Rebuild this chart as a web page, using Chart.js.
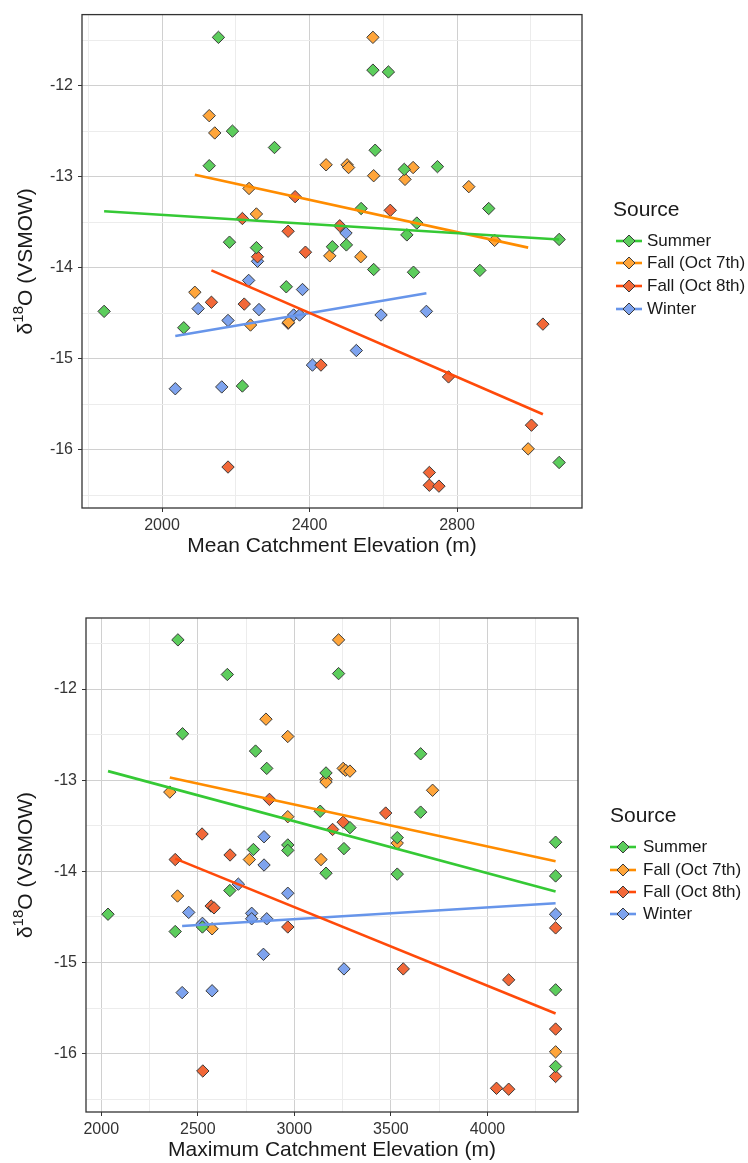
<!DOCTYPE html>
<html>
<head>
<meta charset="utf-8">
<script src="https://cdn.jsdelivr.net/npm/chart.js@4.4.1/dist/chart.umd.min.js"></script>
<style>
  body { margin: 0; background: #fff; font-family: "Liberation Sans", Arial, sans-serif; }
  #page { position: relative; width: 748px; height: 1163px; overflow: hidden; }
  .panel { position: absolute; left: 0; }
  .lg-title { position: absolute; font-size: 21px; line-height: 24px; color: #1a1a1a; white-space: nowrap; }
  .lg-item { position: absolute; font-size: 17px; line-height: 20px; height: 20px; color: #1a1a1a; white-space: nowrap; }
  .lg-item svg { position: absolute; top: 0; }
</style>
</head>
<body>
<div id="page">
  <canvas id="meanChart" class="panel" width="748" height="580" style="top:0"></canvas>
  <canvas id="maxChart" class="panel" width="748" height="583" style="top:580px"></canvas>
</div>
<script>
// series names, in legend order
const seriesNames = ['Summer', 'Fall (Oct 7th)', 'Fall (Oct 8th)', 'Winter'];

// top panel: mean catchment elevation (m) vs d18O
const summerMean = [[2153,-11.47],[2572,-11.83],[2614,-11.85],[2191,-12.50],[2305,-12.68],[2578,-12.71],[2128,-12.88],[2747,-12.89],[2657,-12.92],[2540,-13.35],[2886,-13.35],[2691,-13.51],[2664,-13.64],[3077,-13.69],[2183,-13.72],[2500,-13.75],[2462,-13.77],[2256,-13.78],[2574,-14.02],[2862,-14.03],[2682,-14.05],[2337,-14.21],[1843,-14.48],[2059,-14.66],[2218,-15.30],[3077,-16.14]];
const fall7Mean = [[2572,-11.47],[2128,-12.33],[2143,-12.52],[2445,-12.87],[2502,-12.87],[2506,-12.90],[2681,-12.90],[2574,-12.99],[2659,-13.03],[2832,-13.11],[2236,-13.13],[2256,-13.41],[2902,-13.70],[2455,-13.87],[2539,-13.88],[2089,-14.27],[2343,-14.60],[2240,-14.63],[2993,-15.99]];
const fall8Mean = [[2361,-13.22],[2619,-13.37],[2218,-13.46],[2482,-13.54],[2342,-13.60],[2389,-13.83],[2259,-13.88],[2134,-14.38],[2223,-14.40],[2342,-14.61],[3033,-14.62],[2431,-15.07],[2777,-15.20],[3002,-15.73],[2179,-16.19],[2725,-16.25],[2725,-16.39],[2751,-16.40]];
const winterMean = [[2499,-13.62],[2259,-13.93],[2235,-14.14],[2381,-14.24],[2098,-14.45],[2263,-14.46],[2717,-14.48],[2357,-14.52],[2373,-14.52],[2594,-14.52],[2179,-14.58],[2527,-14.91],[2408,-15.07],[2162,-15.31],[2036,-15.33]];
// fitted lines (end points)
const summerMeanFit = [[1843,-13.38],[3077,-13.69]];
const fall7MeanFit = [[2089,-12.98],[2993,-13.78]];
const fall8MeanFit = [[2134,-14.03],[3033,-15.61]];
const winterMeanFit = [[2036,-14.75],[2717,-14.28]];

// bottom panel: maximum catchment elevation (m) vs d18O
const summerMax = [[2397,-11.46],[3229,-11.83],[2653,-11.84],[2421,-12.49],[2799,-12.68],[3654,-12.71],[2857,-12.87],[3164,-12.92],[3134,-13.34],[3654,-13.35],[3288,-13.52],[3533,-13.63],[4353,-13.68],[2966,-13.71],[3257,-13.75],[2788,-13.76],[2966,-13.77],[3164,-14.02],[3533,-14.03],[4353,-14.05],[2666,-14.21],[2035,-14.47],[2524,-14.61],[2383,-14.66],[4353,-15.30],[4353,-16.14]];
const fall7Max = [[3229,-11.46],[2853,-12.33],[2966,-12.52],[3253,-12.87],[3265,-12.89],[3288,-12.90],[3164,-12.99],[3164,-13.02],[3716,-13.11],[2355,-13.13],[2966,-13.40],[3533,-13.69],[2767,-13.87],[3138,-13.87],[2395,-14.27],[2574,-14.63],[4353,-15.98]];
const fall8Max = [[2871,-13.21],[3473,-13.36],[3253,-13.46],[3198,-13.54],[2522,-13.59],[2667,-13.82],[2383,-13.87],[2569,-14.38],[2584,-14.40],[2966,-14.61],[4353,-14.62],[3564,-15.07],[4110,-15.19],[4353,-15.73],[2526,-16.19],[4353,-16.25],[4047,-16.38],[4110,-16.39]];
const winterMax = [[2843,-13.62],[2843,-13.93],[2710,-14.14],[2966,-14.24],[2453,-14.45],[2779,-14.46],[4353,-14.47],[2779,-14.52],[2857,-14.52],[2524,-14.57],[2840,-14.91],[3257,-15.07],[2574,-15.31],[2419,-15.33]];
const summerMaxFit = [[2035,-12.90],[4353,-14.22]];
const fall7MaxFit = [[2355,-12.97],[4353,-13.89]];
const fall8MaxFit = [[2383,-13.86],[4353,-15.56]];
const winterMaxFit = [[2419,-14.60],[4353,-14.35]];

// tick labels and grid lines
const meanTickLabels = [2000, 2400, 2800];
const meanMinorTicks = [1800, 2200, 2600, 3000];
const maxTickLabels = [2000, 2500, 3000, 3500, 4000];
const maxMinorTicks = [2250, 2750, 3250, 3750, 4250];
const yTickLabels = [-16, -15, -14, -13, -12];
const yMinorTicks = [-16.5, -15.5, -14.5, -13.5, -12.5, -11.5];

const pointColors = ['#5ccd5c', '#ffa53a', '#f26838', '#7ea3ee'];
const lineColors = ['#35c935', '#ff8c00', '#ff4a0a', '#6795ea'];
const FONT = '"Liberation Sans", Arial, sans-serif';

Chart.defaults.font.family = FONT;
Chart.defaults.animation = false;

const toXY = arr => arr.map(p => ({ x: p[0], y: p[1] }));

const framePlugin = {
  id: 'frame',
  afterDatasetsDraw(chart) {
    const { ctx, chartArea: a } = chart;
    ctx.save();
    ctx.strokeStyle = '#333';
    ctx.lineWidth = 1.3;
    ctx.strokeRect(a.left, a.top, a.right - a.left, a.bottom - a.top);
    ctx.restore();
  }
};

// y axis title with a raised "18"
const yTitlePlugin = {
  id: 'yTitle',
  afterDraw(chart, args, opts) {
    const { ctx, chartArea: a } = chart;
    const big = '21px ' + FONT, small = '15px ' + FONT;
    ctx.save();
    ctx.translate(opts.x, (a.top + a.bottom) / 2);
    ctx.rotate(-Math.PI / 2);
    ctx.fillStyle = '#1a1a1a';
    ctx.textBaseline = 'alphabetic';
    ctx.font = big;
    const w1 = ctx.measureText('δ').width, w3 = ctx.measureText('O (VSMOW)').width;
    ctx.font = small;
    const w2 = ctx.measureText('18').width;
    let x = -(w1 + w2 + w3) / 2;
    ctx.font = big; ctx.fillText('δ', x, 0); x += w1;
    ctx.font = small; ctx.fillText('18', x, -9); x += w2;
    ctx.font = big; ctx.fillText('O (VSMOW)', x, 0);
    ctx.restore();
  }
};

function gridScale(labels, minor, min, max, opts) {
  const isMajor = v => labels.includes(v);
  return {
    type: 'linear', min: min, max: max,
    afterBuildTicks: ax => { ax.ticks = labels.concat(minor).sort((a, b) => a - b).map(v => ({ value: v })); },
    afterFit: opts.fit,
    border: { display: false },
    grid: {
      color: c => isMajor(c.tick.value) ? '#d0d0d0' : '#ececec',
      lineWidth: 1,
      tickLength: 4,
      tickColor: c => isMajor(c.tick.value) ? '#333' : 'rgba(0,0,0,0)'
    },
    ticks: {
      autoSkip: false, maxRotation: 0, padding: opts.pad,
      color: '#333', font: { size: 16 },
      callback: v => isMajor(v) ? String(v) : ''
    },
    title: opts.title ? { display: true, text: opts.title, color: '#1a1a1a', font: { size: 21 }, padding: { top: 0, bottom: 0 } } : { display: false }
  };
}

function makeChart(id, groups, fits, xr, xLabels, xMinor, xTitle, yWidth, pad, titleX) {
  const datasets = [];
  fits.forEach((f, i) => datasets.push({
    label: seriesNames[i] + ' fit', data: toXY(f), showLine: true,
    borderColor: lineColors[i], borderWidth: 2.6, pointRadius: 0, order: 0
  }));
  groups.forEach((g, i) => datasets.push({
    label: seriesNames[i], data: toXY(g), pointStyle: 'rectRot', pointRadius: 6.2,
    backgroundColor: pointColors[i], borderColor: '#3a3a3a', borderWidth: 1, order: 1
  }));
  return new Chart(document.getElementById(id), {
    type: 'scatter',
    data: { datasets: datasets },
    options: {
      responsive: false,
      layout: { padding: pad },
      plugins: { legend: { display: false }, tooltip: { enabled: false }, yTitle: { x: titleX } },
      scales: {
        x: gridScale(xLabels, xMinor, xr[0], xr[1], { fit: ax => { ax.height = 51; }, pad: 4, title: xTitle }),
        y: gridScale(yTickLabels, yMinorTicks, -16.64, -11.22, { fit: ax => { ax.width = yWidth; }, pad: 5 })
      }
    },
    plugins: [framePlugin, yTitlePlugin]
  });
}

makeChart('meanChart', [summerMean, fall7Mean, fall8Mean, winterMean],
  [summerMeanFit, fall7MeanFit, fall8MeanFit, winterMeanFit],
  [1783, 3139], meanTickLabels, meanMinorTicks, 'Mean Catchment Elevation (m)',
  82, { top: 8, right: 166, bottom: 21, left: 0 }, 31.5);

makeChart('maxChart', [summerMax, fall7Max, fall8Max, winterMax],
  [summerMaxFit, fall7MaxFit, fall8MaxFit, winterMaxFit],
  [1921, 4469], maxTickLabels, maxMinorTicks, 'Maximum Catchment Elevation (m)',
  86, { top: 38, right: 170, bottom: 0, left: 0 }, 31.5);

// legends (html)
function legendIcon(i) {
  return '<svg width="26" height="20" viewBox="0 0 26 20">' +
    '<line x1="0" y1="10" x2="26" y2="10" stroke="' + lineColors[i] + '" stroke-width="2.6"/>' +
    '<polygon points="13,4 19,10 13,16 7,10" fill="' + pointColors[i] + '" stroke="#3a3a3a" stroke-width="1"/></svg>';
}
function buildLegend(titleLeft, titleTop, iconCx, textLeft, firstCy, step) {
  const page = document.getElementById('page');
  const t = document.createElement('div');
  t.className = 'lg-title';
  t.style.left = titleLeft + 'px';
  t.style.top = titleTop + 'px';
  t.textContent = 'Source';
  page.appendChild(t);
  seriesNames.forEach((name, i) => {
    const d = document.createElement('div');
    d.className = 'lg-item';
    d.style.left = (iconCx - 13) + 'px';
    d.style.top = (firstCy + i * step - 10) + 'px';
    d.innerHTML = legendIcon(i) + '<span style="position:absolute;left:' + (textLeft - iconCx + 13) + 'px">' + name + '</span>';
    page.appendChild(d);
  });
}
buildLegend(613, 196.5, 629, 647, 240.7, 22.6);
buildLegend(610, 803, 623, 643, 847.3, 22.3);
</script>
</body>
</html>
